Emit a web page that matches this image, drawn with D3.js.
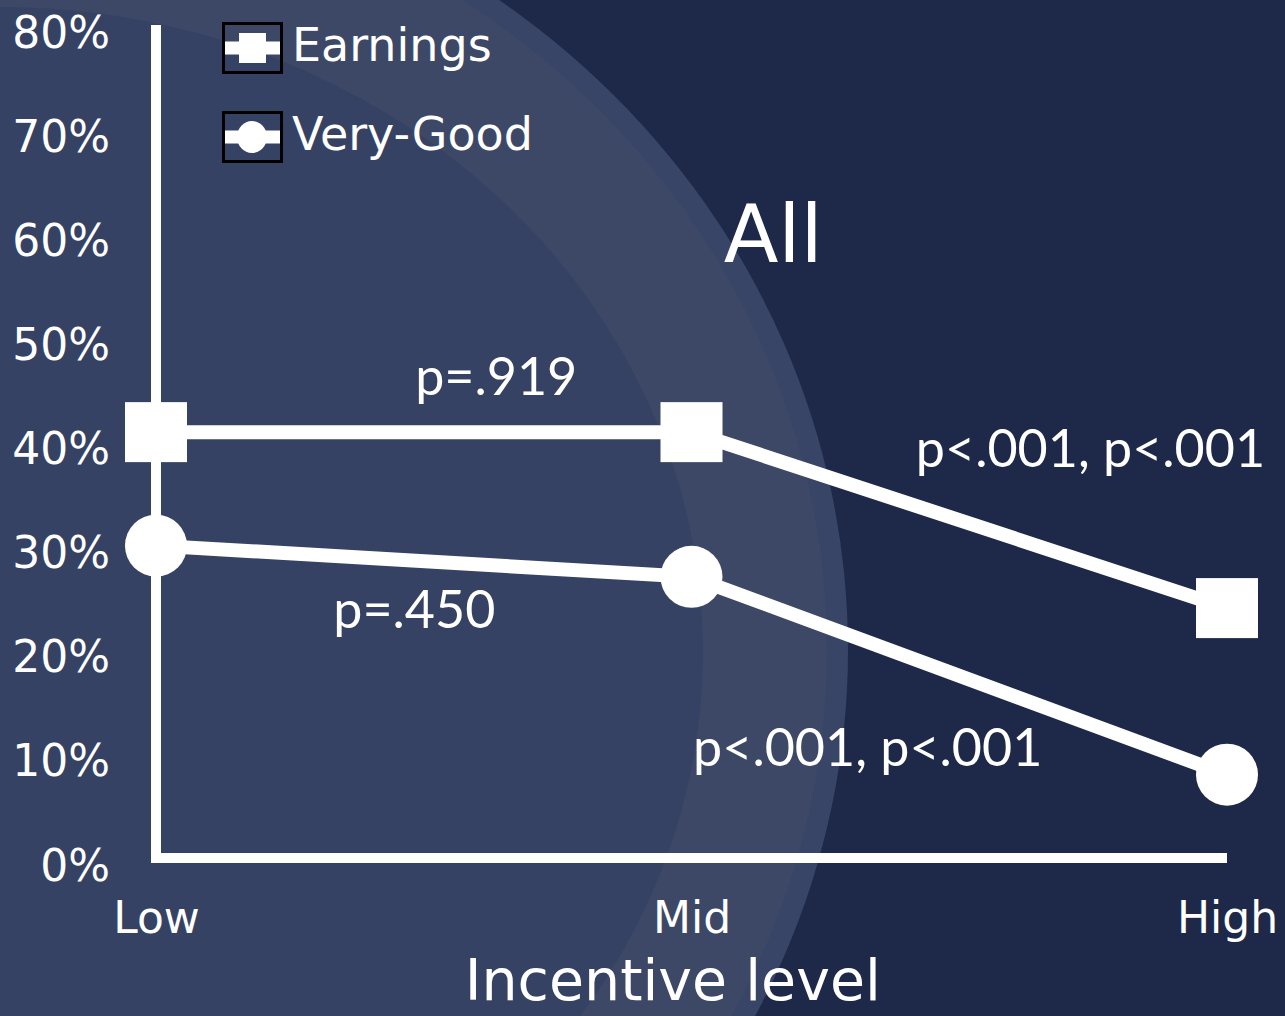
<!DOCTYPE html>
<html>
<head>
<meta charset="utf-8">
<script src="https://cdn.jsdelivr.net/npm/d3@7"></script>
<style>
  body { margin: 0; background: #1e294a; overflow: hidden; }
</style>
</head>
<body>
<div id="chart"></div>
<script>
// data
const levels = ["Low", "Mid", "High"];
const earnings = [0.409, 0.409, 0.240];
const veryGood = [0.300, 0.270, 0.080];
const yTicks = [0, 0.1, 0.2, 0.3, 0.4, 0.5, 0.6, 0.7, 0.8];
const seriesNames = ["Earnings", "Very-Good"];
const pLabels = ["p=.919", "p<.001, p<.001", "p=.450", "p<.001, p<.001"];
const chartTitle = "All";
const xTitle = "Incentive level";

const width = 1285, height = 1016;
const handFont = "'DejaVu Sans', sans-serif";
const noteFont = "Lato, 'Open Sans', sans-serif";

const svg = d3.select("#chart")
  .append("svg")
  .attr("width", width)
  .attr("height", height);

// background arcs
const bg = svg.append("g");
bg.append("rect").attr("width", width).attr("height", height).attr("fill", "#1e294a");
bg.append("ellipse").attr("cx", 0).attr("cy", 650).attr("rx", 848).attr("ry", 804).attr("fill", "#394566");
bg.append("ellipse").attr("cx", 0).attr("cy", 650).attr("rx", 827).attr("ry", 784).attr("fill", "#3d4867");
bg.append("ellipse").attr("cx", 0).attr("cy", 652).attr("rx", 703).attr("ry", 645).attr("fill", "#364263");

// scales
const x = d3.scalePoint().domain(levels).range([156, 1227]);
const y = d3.scaleLinear().domain([0, 0.8]).range([858, 25]);
const xi = d3.scaleLinear().domain([0, 2]).range([156, 1227]);

// axes
const yAxis = d3.axisLeft(y)
  .tickValues(yTicks)
  .tickFormat(d3.format(".0%"))
  .tickSize(0)
  .tickPadding(46);

svg.append("g")
  .attr("transform", `translate(${x("Low")},0)`)
  .call(yAxis)
  .call(g => g.select(".domain").remove())
  .selectAll("text")
  .attr("dy", "0.5em")
  .attr("fill", "white")
  .attr("font-family", handFont)
  .attr("font-size", "44px");

const xAxis = d3.axisBottom(x).tickSize(0).tickPadding(44);

svg.append("g")
  .attr("transform", `translate(0,${y(0)})`)
  .call(xAxis)
  .call(g => g.select(".domain").remove())
  .selectAll("text")
  .attr("fill", "white")
  .attr("font-family", handFont)
  .attr("font-size", "44px");

// axis lines
svg.append("line")
  .attr("x1", x("Low")).attr("x2", x("Low"))
  .attr("y1", y(0.8)).attr("y2", y(0) + 5)
  .attr("stroke", "white").attr("stroke-width", 10);

svg.append("line")
  .attr("x1", x("Low") - 5).attr("x2", x("High"))
  .attr("y1", y(0)).attr("y2", y(0))
  .attr("stroke", "white").attr("stroke-width", 10);

// lines
const line = d3.line()
  .x((d, i) => x(levels[i]))
  .y(d => y(d));

[earnings, veryGood].forEach(s => {
  svg.append("path")
    .datum(s)
    .attr("d", line)
    .attr("fill", "none")
    .attr("stroke", "white")
    .attr("stroke-width", 14);
});

// markers
svg.selectAll(".sq")
  .data(earnings)
  .join("rect")
  .attr("x", (d, i) => x(levels[i]) - 31)
  .attr("y", d => y(d) - 30)
  .attr("width", 62)
  .attr("height", 60)
  .attr("fill", "white");

svg.selectAll(".dot")
  .data(veryGood)
  .join("circle")
  .attr("cx", (d, i) => x(levels[i]))
  .attr("cy", d => y(d))
  .attr("r", 31)
  .attr("fill", "white");

// legend
const legend = svg.append("g").attr("transform", "translate(222,22)");
seriesNames.forEach((name, i) => {
  const g = legend.append("g").attr("transform", `translate(0,${i * 89})`);
  g.append("line")
    .attr("x1", 2).attr("x2", 59).attr("y1", 26).attr("y2", 26)
    .attr("stroke", "white").attr("stroke-width", 13);
  if (i === 0) {
    g.append("rect").attr("x", 17).attr("y", 11).attr("width", 27).attr("height", 30).attr("fill", "white");
  } else {
    g.append("ellipse").attr("cx", 30).attr("cy", 26).attr("rx", 15).attr("ry", 16).attr("fill", "white");
  }
  g.append("rect")
    .attr("x", 1.5).attr("y", 1.5).attr("width", 58).attr("height", 49)
    .attr("fill", "none").attr("stroke", "black").attr("stroke-width", 3);
  g.append("text")
    .attr("x", 70).attr("y", 39)
    .attr("fill", "white")
    .attr("font-family", handFont)
    .attr("font-size", "46px")
    .text(name);
});

// title
svg.append("text")
  .attr("x", xi(1.06))
  .attr("y", y(0.572))
  .attr("fill", "white")
  .attr("font-family", handFont)
  .attr("font-size", "80px")
  .text(chartTitle);

// x axis title
svg.append("text")
  .attr("x", xi(0.965))
  .attr("y", 1000)
  .attr("text-anchor", "middle")
  .attr("fill", "white")
  .attr("font-family", handFont)
  .attr("font-size", "57px")
  .text(xTitle);

// p-value notes
const notePos = [[0.484, 0.445], [1.419, 0.3756], [0.331, 0.221], [1.003, 0.088]];
svg.selectAll(".note")
  .data(pLabels)
  .join("text")
  .attr("x", (d, i) => xi(notePos[i][0]))
  .attr("y", (d, i) => y(notePos[i][1]))
  .attr("fill", "white")
  .attr("font-family", noteFont)
  .attr("font-size", "52px")
  .text(d => d);
</script>
</body>
</html>
